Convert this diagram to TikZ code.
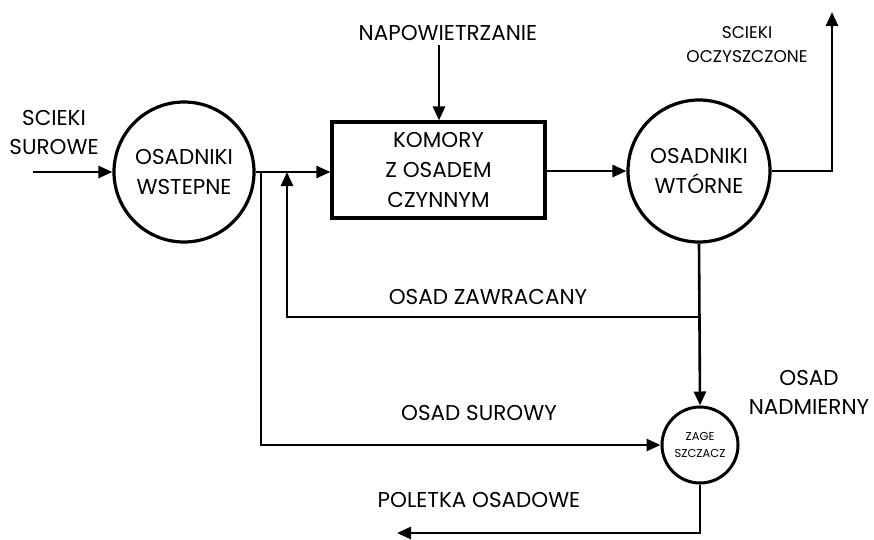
\documentclass[tikz,border=0pt]{standalone}
\usepackage{fontspec}
\setmainfont{Poppins}
\usetikzlibrary{arrows.meta}
\begin{document}
\begin{tikzpicture}[x=1pt,y=-1pt,
  lbl/.style={font=\fontsize{21.5}{29}\selectfont, align=center, inner sep=0pt},
  slbl/.style={font=\fontsize{17}{24}\selectfont, align=center, inner sep=0pt},
  unit/.style={draw, circle, line width=3.2pt, inner sep=0pt, font=\fontsize{21.5}{30}\selectfont, align=center},
  tank/.style={draw, rectangle, line width=3.2pt, inner sep=0pt, font=\fontsize{21.5}{30}\selectfont, align=center},
  flow/.style={line width=2.6pt},
  arr/.style={flow, -{Triangle[length=14pt,width=12pt]}}
]
\useasboundingbox (0,0) rectangle (874,539);
% units
\node[unit, minimum size=140pt] (c1) at (184,172) {OSADNIKI\\WSTEPNE};
\node[tank, minimum width=213pt, minimum height=96pt] (box) at (438.5,170) {KOMORY\\Z OSADEM\\CZYNNYM};
\node[unit, minimum size=142pt] (c2) at (699,171) {OSADNIKI\\WTÓRNE};
\node[unit, minimum size=76pt, line width=3pt, font=\fontsize{11.5}{17}\selectfont] (c3) at (700,445) {ZAGE\\SZCZACZ};
% labels
\node[lbl] (tin) at (54,132) {SCIEKI\\SUROWE};
\node[lbl] (tair) at (448,33) {NAPOWIETRZANIE};
\node[slbl] (tout) at (747,45) {SCIEKI\\OCZYSZCZONE};
\node[lbl] (tret) at (488,297) {OSAD ZAWRACANY};
\node[lbl] (traw) at (479,413) {OSAD SUROWY};
\node[lbl] (texc) at (809,392) {OSAD\\NADMIERNY};
\node[lbl] (tbed) at (479,500) {POLETKA OSADOWE};
% coordinates
\coordinate (in) at (33,172);
\coordinate (air) at (439,45);
\coordinate (j1) at (261,172);
\coordinate (j2) at (287,172);
\coordinate (up) at (832,12);
\coordinate (r) at (699,317);
\coordinate (bed) at (397,533);
% flows
\draw[arr] (in) -- (in -| c1.west);
\draw[arr] (c1.east |- j1) -- (j1 -| box.west);
\draw[arr] (air) -- (air |- box.north);
\draw[arr] (box.east |- c2.west) -- (c2.west);
\draw[arr] (c2.east) -| (up);
\draw[arr] (c2.south) -- (c3.north);
\draw[arr] (r) -| (j2);
\draw[arr] (j1) |- (c3.west);
\draw[arr] (c3.south) |- (bed);
\end{tikzpicture}
\end{document}
